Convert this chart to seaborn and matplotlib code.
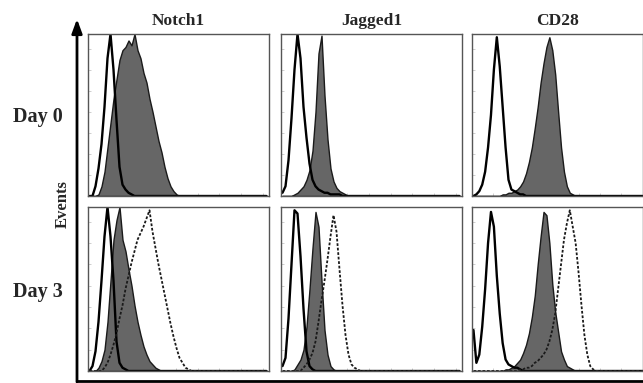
"""Flow cytometry overlays: Notch1 / Jagged1 / CD28 at day 0 and day 3."""
import numpy as np
import pandas as pd
import seaborn as sns
import matplotlib.pyplot as plt

markers = ['Notch1', 'Jagged1', 'CD28']
days = ['Day 0', 'Day 3']
N_BINS = 60

# events per fluorescence channel bin, in % of panel max (bins left to right,
# trailing empty bins left out). iso = isotype control, d0 = day-0 stain,
# d3 = day-3 stain (dotted overlay)
notch1_d0_iso = [0, 0, 6, 17, 32, 55, 85, 100, 78, 47, 18, 7, 4, 2, 1]
notch1_d0_stain = [0, 0, 0, 1, 6, 15, 30, 45, 60, 72, 84, 90, 92, 96, 93, 100,
                   90, 85, 76, 70, 60, 52, 43, 34, 27, 18, 11, 6, 3, 1]
notch1_d3_iso = [0, 3, 12, 30, 55, 82, 100, 82, 55, 18, 5, 2, 1]
notch1_d3_d0 = [0, 0, 0, 2, 6, 13, 30, 55, 80, 92, 100, 80, 73, 62, 52, 40,
                30, 22, 15, 10, 6, 4, 2, 1]
notch1_d3_d3 = [0, 0, 0, 0, 0, 2, 5, 10, 16, 23, 32, 40, 50, 58, 66, 73, 80,
                84, 88, 93, 98, 85, 75, 65, 56, 47, 38, 29, 21, 14, 8, 5, 2, 1]

jagged1_d0_iso = [2, 6, 22, 48, 78, 100, 85, 55, 36, 20, 10, 6, 4, 3, 2, 2,
                  1, 1, 1, 1]
jagged1_d0_stain = [0, 0, 0, 0, 1, 2, 4, 6, 10, 16, 28, 52, 88, 99, 62, 35,
                    17, 9, 5, 3, 2, 1]
jagged1_d3_iso = [3, 8, 32, 65, 98, 96, 70, 38, 12, 3, 1]
jagged1_d3_d0 = [0, 0, 0, 0, 1, 4, 7, 13, 27, 50, 75, 97, 88, 55, 25, 10, 3, 1]
jagged1_d3_d3 = [0, 0, 0, 0, 0, 0, 0, 2, 4, 7, 11, 18, 30, 43, 55, 68, 82,
                 95, 85, 62, 40, 22, 10, 4, 2, 1]

cd28_d0_iso = [0, 1, 3, 7, 15, 30, 50, 78, 98, 80, 55, 30, 10, 4, 3, 2, 1, 1]
cd28_d0_stain = [0, 0, 0, 0, 0, 0, 0, 0, 0, 0, 1, 1, 2, 2, 3, 4, 6, 9, 14,
                 21, 30, 42, 55, 70, 82, 92, 98, 90, 75, 52, 30, 15, 6, 2, 1]
cd28_d3_iso = [25, 5, 10, 27, 50, 78, 97, 88, 58, 35, 17, 7, 4, 3, 2, 2, 1]
cd28_d3_d0 = [0, 0, 0, 0, 0, 0, 0, 0, 0, 0, 0, 1, 1, 2, 3, 5, 7, 11, 16, 23,
              33, 46, 65, 82, 97, 95, 78, 53, 36, 24, 12, 7, 3, 2, 1]
cd28_d3_d3 = [0, 0, 0, 0, 0, 0, 0, 0, 0, 0, 0, 0, 0, 0, 0, 0, 1, 1, 2, 2, 3,
              5, 6, 8, 10, 13, 18, 25, 35, 50, 65, 80, 90, 98, 88, 78, 60,
              40, 22, 10, 3, 1]

# (row, col) -> (filled stain, isotype line, dotted day-3 line)
panels = {
    (0, 0): (notch1_d0_stain, notch1_d0_iso, None),
    (0, 1): (jagged1_d0_stain, jagged1_d0_iso, None),
    (0, 2): (cd28_d0_stain, cd28_d0_iso, None),
    (1, 0): (notch1_d3_d0, notch1_d3_iso, notch1_d3_d3),
    (1, 1): (jagged1_d3_d0, jagged1_d3_iso, jagged1_d3_d3),
    (1, 2): (cd28_d3_d0, cd28_d3_iso, cd28_d3_d3),
}

centers = np.arange(N_BINS) + 0.5


def to_df(v):
    w = np.pad(np.asarray(v, float), (0, N_BINS - len(v)))
    return pd.DataFrame({'channel': centers, 'events': w})


sns.set_theme(style='white')
plt.rcParams['font.family'] = ['Liberation Serif', 'DejaVu Serif']

W, H = 643, 383
fig = plt.figure(figsize=(W / 100, H / 100), dpi=100)

col_px = [(88, 269), (281, 462), (472, 642.5)]
row_px = [(34, 196), (207, 371)]
hist_kw = dict(x='channel', weights='events', bins=N_BINS,
               binrange=(0, N_BINS), element='poly', alpha=1)

for (r, c), (stain, iso, later) in panels.items():
    x0, x1 = col_px[c]
    y0, y1 = row_px[r]
    ax = fig.add_axes([x0 / W, 1 - y1 / H, (x1 - x0) / W, (y1 - y0) / H])
    sns.histplot(data=to_df(stain), fill=True, color='#666666',
                 edgecolor='#1a1a1a', linewidth=1.0, ax=ax, **hist_kw)
    sns.histplot(data=to_df(iso), fill=False, color='black',
                 linewidth=1.7, ax=ax, **hist_kw)
    if later is not None:
        sns.histplot(data=to_df(later), fill=False, color='#1a1a1a',
                     linewidth=1.3, linestyle=(0, (1.5, 1)), ax=ax, **hist_kw)
    ax.set_xlim(0, (x1 - x0) / 3)
    ax.set_ylim(0, 100)
    ax.set(xlabel='', ylabel='')
    ax.set_xticks(np.arange(0, N_BINS, 7.3))
    ax.set_yticks(np.arange(0, 100, 13))
    ax.tick_params(direction='in', length=2, width=0.5, colors='#bbbbbb',
                   labelbottom=False, labelleft=False, bottom=True, left=True)
    for sp in ax.spines.values():
        sp.set_color('#555555')
        sp.set_linewidth(1.0)

# outer frame: pixel-coordinate overlay for the Events arrow and labels
ov = fig.add_axes([0, 0, 1, 1])
ov.patch.set_visible(False)
ov.set_xlim(0, W)
ov.set_ylim(H, 0)
ov.axis('off')
ov.plot([77, W], [381, 381], color='black', lw=2, solid_capstyle='butt')
ov.annotate('', xy=(77, 19), xytext=(77, 382),
            arrowprops=dict(arrowstyle='-|>,head_length=0.6,head_width=0.22',
                            mutation_scale=14, lw=2, color='black',
                            shrinkA=0, shrinkB=0))

for c, name in enumerate(markers):
    x0, x1 = col_px[c]
    ov.text((x0 + x1) / 2, 25, name, ha='center', va='baseline',
            fontsize=12.5, fontweight='bold')
for r, day in enumerate(days):
    ov.text(38, [122, 297][r], day, ha='center', va='baseline',
            fontsize=14.5, fontweight='bold')
ov.text(63, 204, 'Events', rotation=90, ha='center', va='center',
        fontsize=12, fontweight='bold')

fig.savefig('out.png', dpi=100)
